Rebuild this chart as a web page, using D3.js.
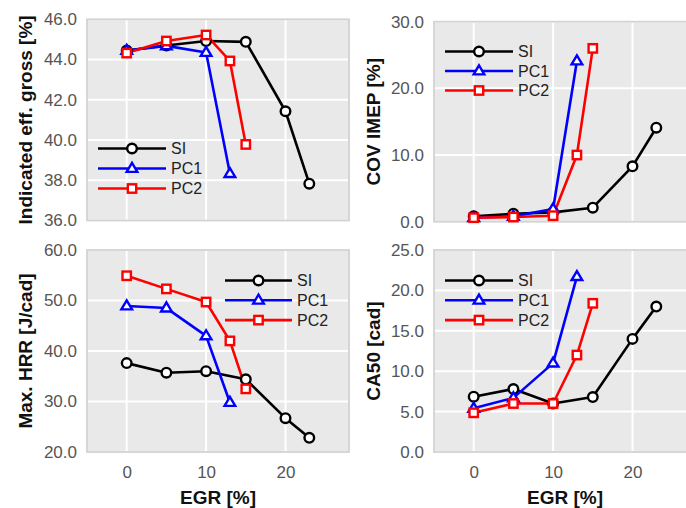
<!DOCTYPE html>
<html>
<head>
<meta charset="utf-8">
<script src="https://cdn.jsdelivr.net/npm/d3@7"></script>
<style>
  html, body { margin: 0; padding: 0; background: #fff; }
  svg { display: block; font-family: "Liberation Sans", Arial, sans-serif; }
</style>
</head>
<body>
<svg id="chart" width="686" height="508"></svg>
<script>
// ---- Data ----
const egrSI  = [0, 5, 10, 15, 20, 23];
const egrPC1 = [0, 5, 10, 13];
const egrPC2 = [0, 5, 10, 13, 15];
const seriesNames = ["SI", "PC1", "PC2"];
const seriesColors = ["#000000", "#0000ff", "#ff0000"];
const seriesMarkers = ["circle", "triangle", "square"];

const effSI  = [44.45, 44.7, 44.92, 44.88, 41.43, 37.83];
const effPC1 = [44.45, 44.68, 44.35, 38.33];
const effPC2 = [44.32, 44.92, 45.22, 43.93, 39.78];

const covSI  = [0.8, 1.2, 1.4, 2.1, 8.3, 14.1];
const covPC1 = [0.6, 0.8, 1.9, 24.1];
const covPC2 = [0.6, 0.7, 0.9, 10.0, 26.0];

const hrrSI  = [37.6, 35.7, 36.0, 34.4, 26.7, 22.8];
const hrrPC1 = [48.9, 48.5, 43.0, 29.8];
const hrrPC2 = [54.9, 52.3, 49.7, 42.0, 32.5];

const ca50SI  = [6.85, 7.8, 6.0, 6.8, 14.0, 18.0];
const ca50PC1 = [5.4, 6.7, 11.0, 21.7];
const ca50PC2 = [4.85, 6.0, 6.0, 12.0, 18.4];

const xTicks = [0, 10, 20];
const effTicks  = [36, 38, 40, 42, 44, 46];
const covTicks  = [0, 10, 20, 30];
const hrrTicks  = [20, 30, 40, 50, 60];
const ca50Ticks = [0, 5, 10, 15, 20, 25];

const yTitles = ["Indicated eff. gross [%]", "COV IMEP [%]", "Max. HRR [J/cad]", "CA50 [cad]"];
const xTitle = "EGR [%]";

// ---- Layout ----
const panels = [
  { box: [87, 349, 19.3, 220.5], ydom: [36, 46], yt: effTicks, data: [effSI, effPC1, effPC2], title: yTitles[0], titleX: 25, showX: false, leg: [98, 166, 148.5, 20] },
  { box: [434, 696, 21.7, 221.7], ydom: [0, 30], yt: covTicks, data: [covSI, covPC1, covPC2], title: yTitles[1], titleX: 373, showX: false, leg: [445, 513, 51.5, 19.5] },
  { box: [87, 349, 250, 452], ydom: [20, 60], yt: hrrTicks, data: [hrrSI, hrrPC1, hrrPC2], title: yTitles[2], titleX: 25, showX: true, leg: [225, 292, 280.5, 19.8] },
  { box: [434, 696, 250, 452], ydom: [0, 25], yt: ca50Ticks, data: [ca50SI, ca50PC1, ca50PC2], title: yTitles[3], titleX: 373, showX: true, leg: [445, 513, 280.5, 19.8] }
];
const xs = [egrSI, egrPC1, egrPC2];

const svg = d3.select("#chart");

function drawMarker(g, type, x, y, color) {
  if (type === "circle") {
    g.append("circle").attr("cx", x).attr("cy", y).attr("r", 4.8)
      .attr("fill", "#fff").attr("stroke", color).attr("stroke-width", 2.4);
  } else if (type === "triangle") {
    const s = 5.6;
    g.append("path")
      .attr("d", `M${x},${y - s} L${x + s * 0.95},${y + s * 0.6} L${x - s * 0.95},${y + s * 0.6} Z`)
      .attr("fill", "#fff").attr("stroke", color).attr("stroke-width", 2.4).attr("stroke-linejoin", "miter");
  } else {
    const s = 4.2;
    g.append("rect").attr("x", x - s).attr("y", y - s).attr("width", 2 * s).attr("height", 2 * s)
      .attr("fill", "#fff").attr("stroke", color).attr("stroke-width", 2.4);
  }
}

panels.forEach((p, pi) => {
  const [l, r, t, b] = p.box;
  const x = d3.scaleLinear().domain([-5, 28]).range([l, r]);
  const y = d3.scaleLinear().domain(p.ydom).range([b, t]);
  const g = svg.append("g");
  const clipId = "clip" + pi;
  svg.append("clipPath").attr("id", clipId).append("rect")
    .attr("x", l).attr("y", t - 8).attr("width", r - l).attr("height", b - t + 16);

  g.append("rect").attr("x", l).attr("y", t).attr("width", r - l).attr("height", b - t)
    .attr("fill", "#e9e9e9");
  // grid
  g.selectAll(".gx").data(xTicks).enter().append("line")
    .attr("x1", d => x(d)).attr("x2", d => x(d)).attr("y1", t).attr("y2", b)
    .attr("stroke", "#fff").attr("stroke-width", 2);
  g.selectAll(".gy").data(p.yt).enter().append("line")
    .attr("x1", l).attr("x2", r).attr("y1", d => y(d)).attr("y2", d => y(d))
    .attr("stroke", "#fff").attr("stroke-width", 2);
  // border
  g.append("rect").attr("x", l).attr("y", t).attr("width", r - l).attr("height", b - t)
    .attr("fill", "none").attr("stroke", "#d3d3d3").attr("stroke-width", 1.8);

  // y axis
  const ya = g.append("g").attr("transform", `translate(${l},0)`)
    .call(d3.axisLeft(y).tickValues(p.yt).tickSize(0).tickPadding(10).tickFormat(d3.format(".1f")));
  ya.select(".domain").remove();
  ya.selectAll("text").attr("font-size", 17).attr("fill", "#555").attr("font-family", "Liberation Sans, Arial, sans-serif");

  if (p.showX) {
    const xa = g.append("g").attr("transform", `translate(0,${b})`)
      .call(d3.axisBottom(x).tickValues(xTicks).tickSize(0).tickPadding(14).tickFormat(d3.format("d")));
    xa.select(".domain").remove();
    xa.selectAll("text").attr("font-size", 17).attr("fill", "#555").attr("font-family", "Liberation Sans, Arial, sans-serif");
    g.append("text").attr("x", (l + r) / 2).attr("y", 503.5).attr("text-anchor", "middle")
      .attr("font-size", 19).attr("font-weight", "bold").attr("fill", "#111").text(xTitle);
  }
  // y title
  g.append("text")
    .attr("transform", `translate(${p.titleX + 7},${(t + b) / 2}) rotate(-90)`)
    .attr("text-anchor", "middle")
    .attr("font-size", 19).attr("font-weight", "bold").attr("fill", "#111").text(p.title);

  // series
  const dg = g.append("g").attr("clip-path", `url(#${clipId})`);
  p.data.forEach((vals, si) => {
    const pts = vals.map((v, i) => [x(xs[si][i]), y(v)]);
    dg.append("path").attr("d", d3.line()(pts)).attr("fill", "none")
      .attr("stroke", seriesColors[si]).attr("stroke-width", 2.6).attr("stroke-linejoin", "round");
  });
  p.data.forEach((vals, si) => {
    vals.forEach((v, i) => drawMarker(dg, seriesMarkers[si], x(xs[si][i]), y(v), seriesColors[si]));
  });

  // legend
  const [lx1, lx2, ly0, dy] = p.leg;
  seriesNames.forEach((name, si) => {
    const yy = ly0 + si * dy;
    g.append("line").attr("x1", lx1).attr("x2", lx2).attr("y1", yy).attr("y2", yy)
      .attr("stroke", seriesColors[si]).attr("stroke-width", 2.6);
    drawMarker(g, seriesMarkers[si], (lx1 + lx2) / 2, yy, seriesColors[si]);
    g.append("text").attr("x", lx2 + 5).attr("y", yy).attr("dy", "0.36em")
      .attr("font-size", 16).attr("fill", "#222").text(name);
  });
});
</script>
</body>
</html>
